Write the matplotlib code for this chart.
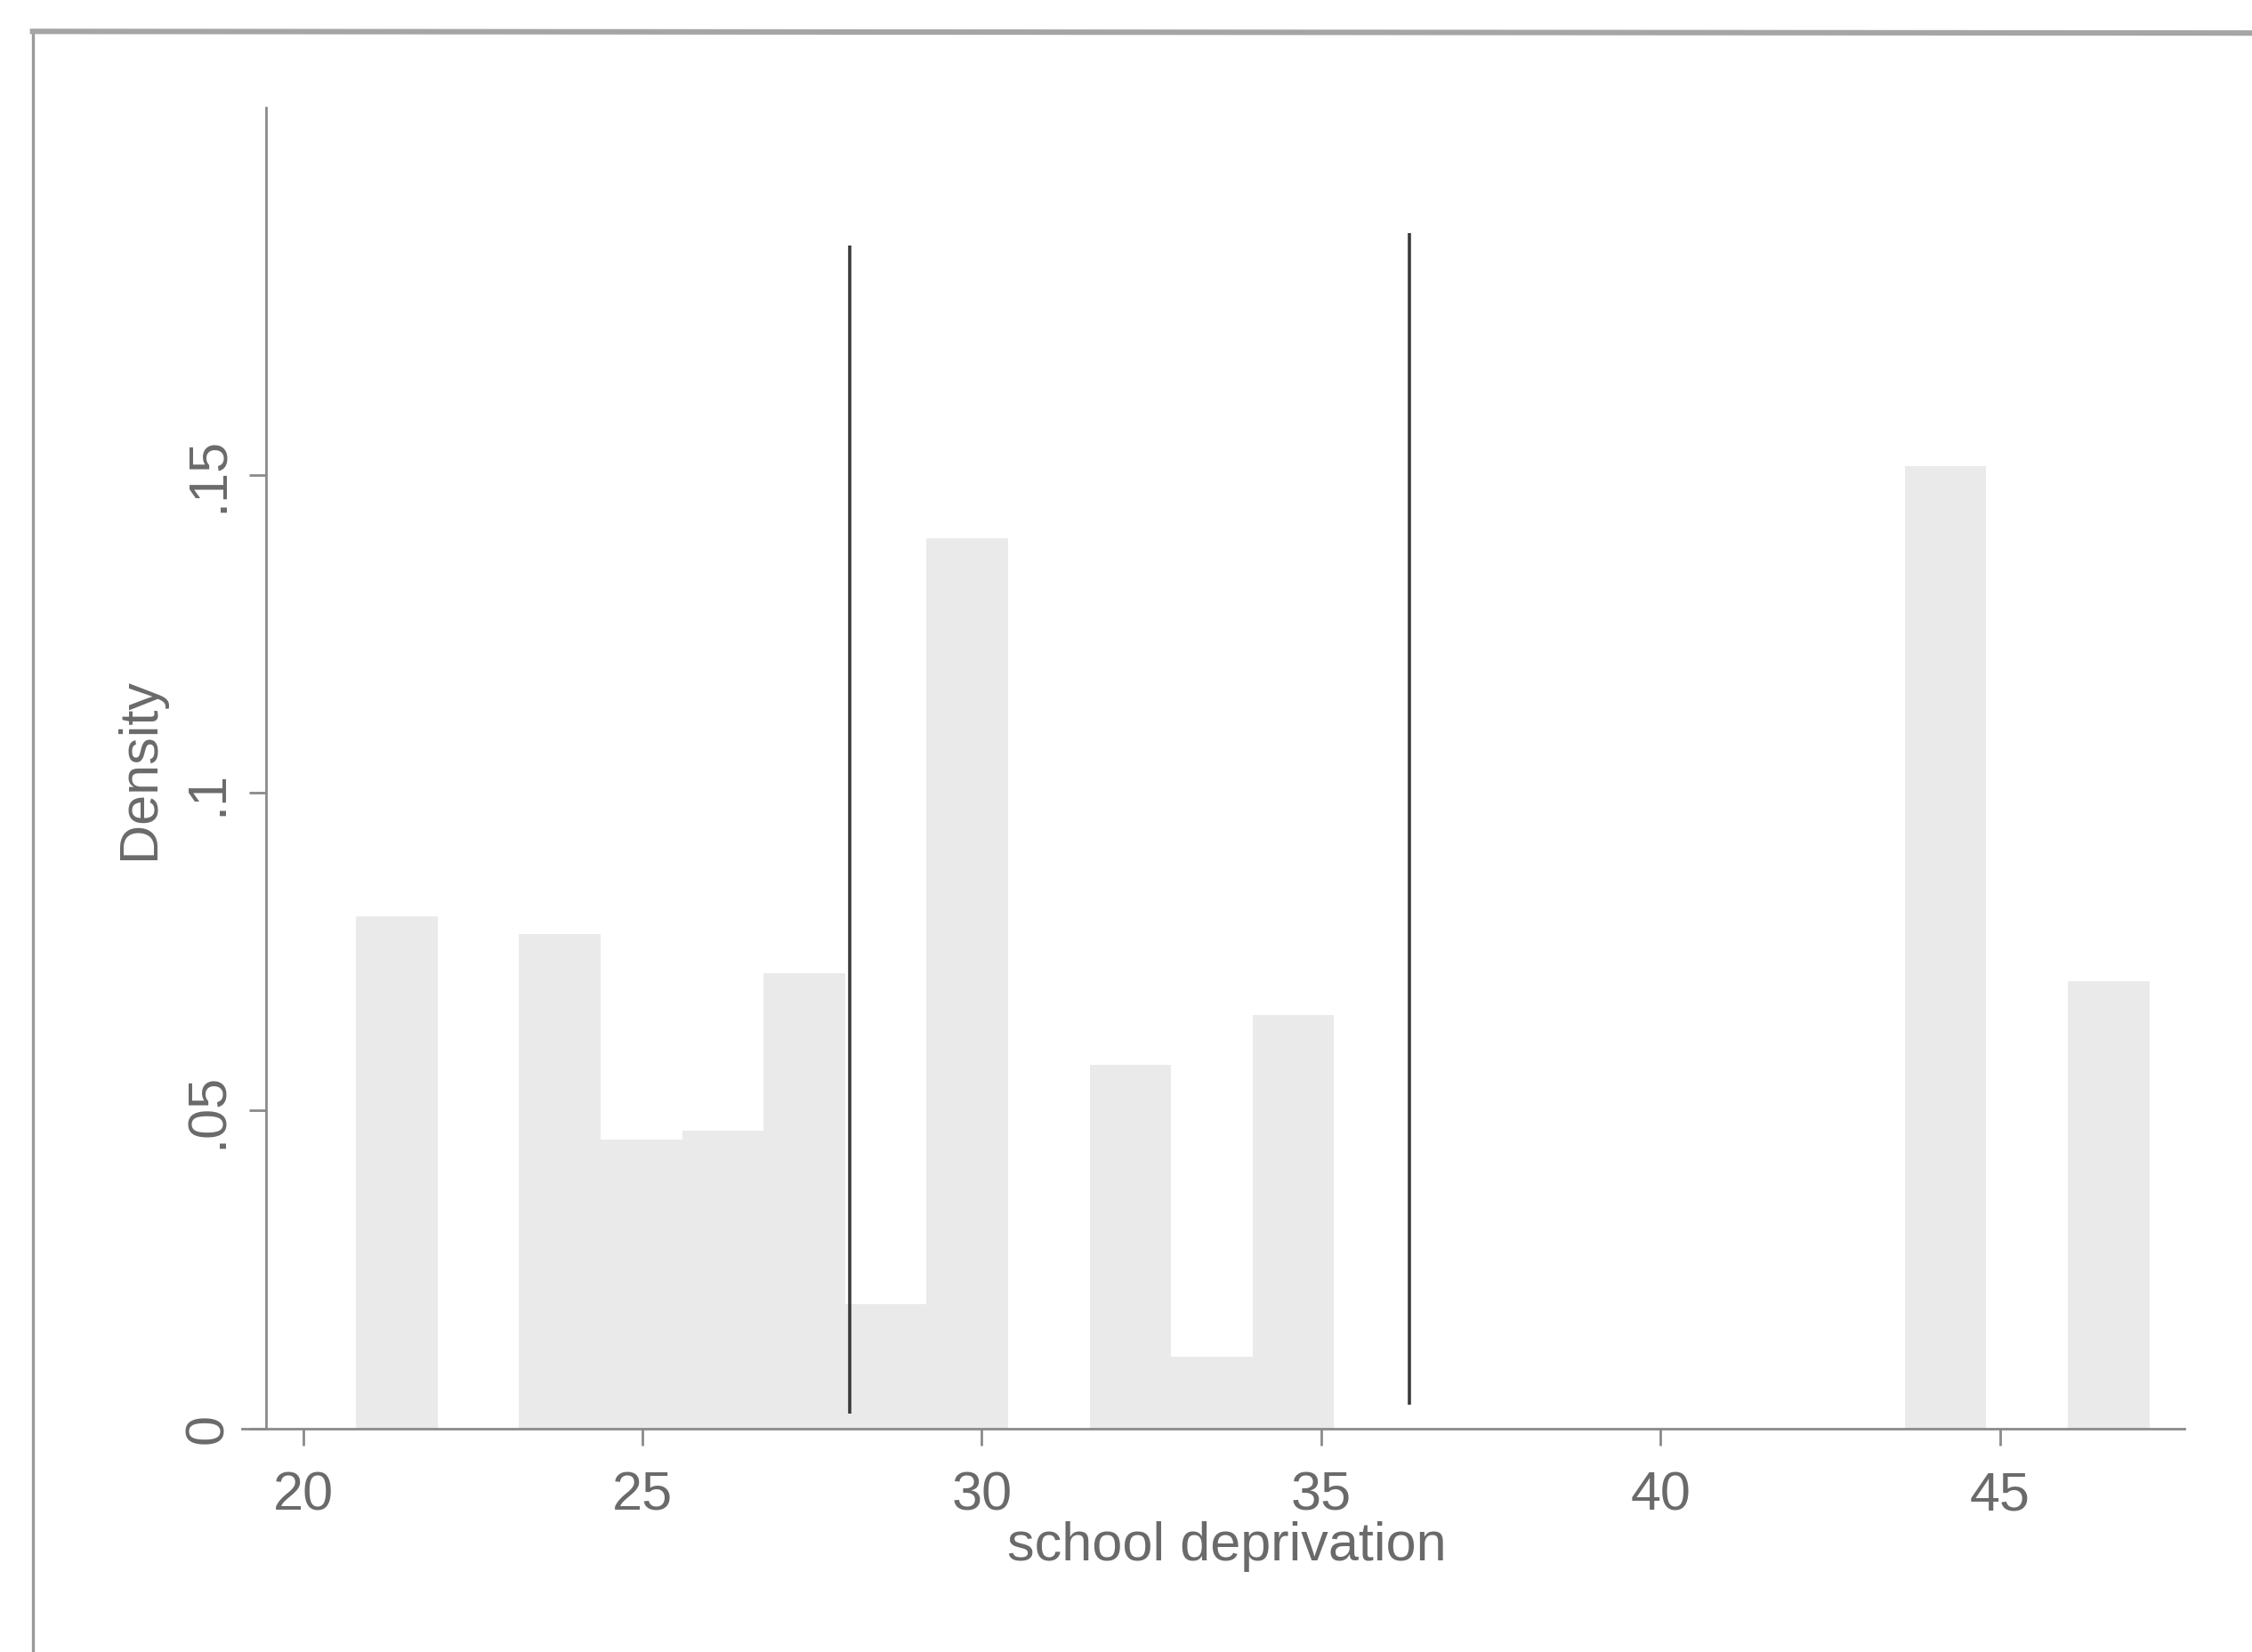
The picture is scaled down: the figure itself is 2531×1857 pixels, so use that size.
import matplotlib
matplotlib.use('Agg')
import matplotlib.pyplot as plt
from matplotlib.lines import Line2D

#-------------------------   Data   -------------------------------------------

#Histogram bins (school deprivation), density per bin
bin_start = 20.78
bin_width = 1.201
density = [0.0806, 0.0, 0.0777, 0.0455, 0.0468, 0.0716, 0.0196, 0.1400,
           0.0, 0.0572, 0.0113, 0.0651, 0.0, 0.0, 0.0, 0.0, 0.0, 0.0, 0.0,
           0.1514, 0.0, 0.0703]

#Cut-off lines
cut_x = [28.05, 36.30]
cut_ymin = [0.0023, 0.0038]
cut_ymax = [0.186, 0.188]

xticks = [20, 25, 30, 35, 40, 45]
yticks = [0, 0.05, 0.1, 0.15]
yticklabels = ['0', '.05', '.1', '.15']

#-------------------------   Plot   -------------------------------------------

plt.rcParams['font.family'] = ['Liberation Sans', 'DejaVu Sans']
txtcol = '#6a6a6a'
axcol = '#8a8a8a'
fsize = 22

fig = plt.figure(figsize=(12.655, 9.285), dpi=200)
fig.patch.set_facecolor('white')

#Outer frame (left and top edges visible in scan)
fig.add_artist(Line2D([0.0145, 0.0145], [0.0, 0.9810], color='#9a9a9a',
                      lw=1.2, transform=fig.transFigure))
fig.add_artist(Line2D([0.0145, 1.0], [0.9810, 0.9800], color='#a5a5a5',
                      lw=2.2, transform=fig.transFigure))

ax = fig.add_axes([0.1075, 0.1352, 0.8625, 0.7996])

lefts = [bin_start + i * bin_width for i in range(len(density))]
ax.bar(lefts, density, width=bin_width, align='edge', color='#eaeaea',
       edgecolor='none', zorder=1)

ax.vlines(cut_x, cut_ymin, cut_ymax, color='#3a3a3a', lw=1.3, zorder=3)

ax.set_xlim(19.10, 47.72)
ax.set_ylim(0, 0.2077)

for s in ['top', 'right']:
    ax.spines[s].set_visible(False)
ax.spines['left'].set_position(('data', 19.45))
for s in ['left', 'bottom']:
    ax.spines[s].set_color(axcol)
    ax.spines[s].set_linewidth(1.0)

ax.set_xticks(xticks)
ax.set_xticklabels([str(t) for t in xticks], fontsize=fsize, color=txtcol)
ax.set_yticks(yticks)
ax.set_yticklabels(yticklabels, fontsize=fsize, color=txtcol, rotation=90,
                   va='center')
ax.tick_params(direction='out', length=7, width=1.0, color=axcol)
ax.tick_params(axis='x', pad=10)
ax.tick_params(axis='y', pad=6)

ax.set_xlabel('school deprivation', fontsize=fsize, color=txtcol, labelpad=0)
ax.xaxis.set_label_coords(0.507, -0.070)
ax.set_ylabel('Density', fontsize=fsize, color=txtcol, labelpad=7)

plt.savefig('out.png', dpi=200)
